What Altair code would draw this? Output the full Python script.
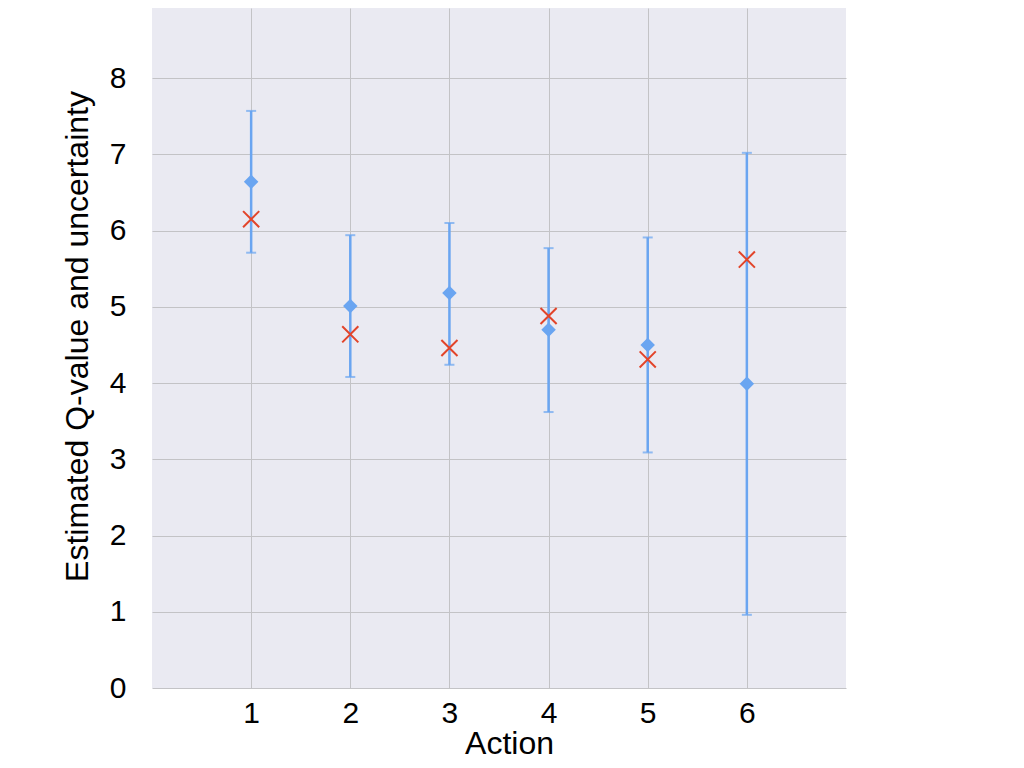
import altair as alt
import pandas as pd

actions = [1, 2, 3, 4, 5, 6]
estimated = [6.64, 5.01, 5.18, 4.70, 4.50, 3.99]
upper = [7.57, 5.94, 6.10, 5.77, 5.91, 7.02]
lower = [5.71, 4.08, 4.24, 3.62, 3.09, 0.96]
true_q = [6.15, 4.64, 4.46, 4.88, 4.31, 5.62]
y_ticks = [0, 1, 2, 3, 4, 5, 6, 7, 8]

df = pd.DataFrame({
    "action": actions,
    "est": estimated,
    "hi": upper,
    "lo": lower,
    "true": true_q,
})

BLUE = "#6aa5f1"
RED = "#e2442a"
FONT = "Liberation Sans"

xscale = alt.Scale(domain=[0, 7], nice=False, zero=False)
yscale = alt.Scale(domain=[0, 8.92], nice=False)
x_axis = alt.Axis(values=actions, format="d", title="Action",
                  titleX=357, titleY=55, titleBaseline="middle", titleAlign="center")
y_axis = alt.Axis(values=y_ticks, format="d", title="Estimated Q-value and uncertainty",
                  titleX=-75, titleY=328, titleAngle=-90,
                  titleAlign="center", titleBaseline="middle")

X = alt.X("action:Q", scale=xscale, axis=x_axis)

base = alt.Chart(df)

bars = base.mark_rule(color=BLUE, strokeWidth=2.5).encode(
    x=X,
    y=alt.Y("lo:Q", scale=yscale, axis=y_axis),
    y2="hi:Q",
)
cap_hi = base.mark_tick(color=BLUE, size=10, thickness=2, orient="horizontal").encode(
    x=X, y=alt.Y("hi:Q", scale=yscale, axis=y_axis))
cap_lo = base.mark_tick(color=BLUE, size=10, thickness=2, orient="horizontal").encode(
    x=X, y=alt.Y("lo:Q", scale=yscale, axis=y_axis))
diamonds = base.mark_point(shape="diamond", filled=True, size=210, color=BLUE, opacity=1).encode(
    x=X, y=alt.Y("est:Q", scale=yscale, axis=y_axis))
crosses = base.mark_point(shape="M-1,-1L1,1M1,-1L-1,1", filled=False, size=260,
                          color=RED, strokeWidth=2, opacity=1).encode(
    x=X, y=alt.Y("true:Q", scale=yscale, axis=y_axis))

chart = alt.layer(bars, cap_hi, cap_lo, diamonds, crosses).properties(
    width=694, height=680,
    autosize=alt.AutoSizeParams(type="none"),
    padding={"left": 144, "top": 0, "right": 30, "bottom": 80},
    background="white",
).configure_view(
    fill="#eaeaf2", stroke=None,
).configure_axis(
    grid=True, gridColor="#c3c3c6", gridWidth=1, domain=False, ticks=False,
    labelFont=FONT, titleFont=FONT, labelColor="black", titleColor="black",
    labelFontSize=30, titleFontSize=32, titleFontWeight="normal",
).configure_axisX(
    labelPadding=10,
).configure_axisY(
    labelPadding=26,
)

chart.save("out.html", embed_options={"renderer": "svg", "actions": False})
